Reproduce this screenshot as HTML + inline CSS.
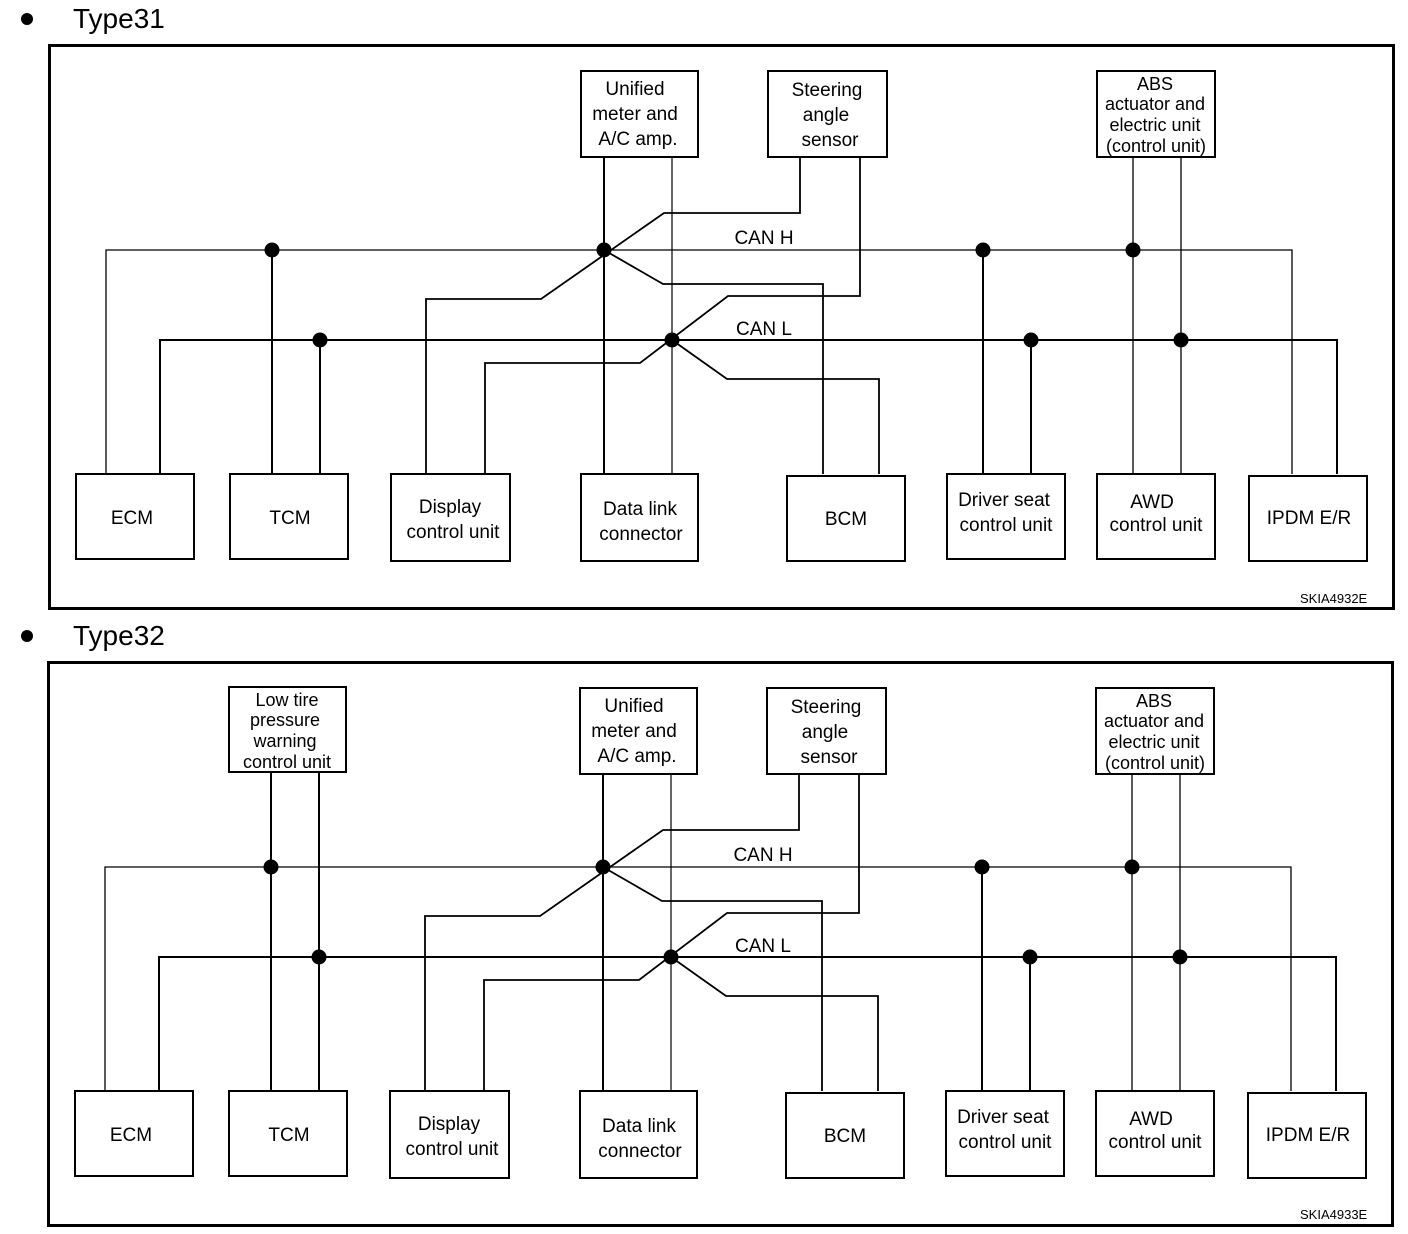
<!DOCTYPE html>
<html><head><meta charset="utf-8"><style>
html,body{margin:0;padding:0;background:#fff}
svg{display:block}
text{font-family:"Liberation Sans",sans-serif;fill:#000}
</style></head><body>
<svg width="1408" height="1234" viewBox="0 0 1408 1234" xmlns="http://www.w3.org/2000/svg">
<defs>
<g id="common">
  <rect x="49.5" y="45.5" width="1344" height="563" fill="none" stroke="#000" stroke-width="3"/>
  <g fill="none" stroke="#000" stroke-width="1.5">
    <polyline points="106,474 106,250 1292,250 1292,474" stroke-width="1.3"/>
    <polyline points="160,474 160,340 1337,340 1337,474" stroke-width="2"/>
    <line x1="272" y1="250" x2="272" y2="474" stroke-width="2"/>
    <line x1="320" y1="340" x2="320" y2="474" stroke-width="2"/>
    <line x1="604" y1="157" x2="604" y2="474" stroke-width="2"/>
    <line x1="672" y1="157" x2="672" y2="474" stroke-width="1.2"/>
    <polyline points="800,157 800,213 664,213 541,299 426,299 426,474" stroke-width="1.8"/>
    <polyline points="860,157 860,296 728,296 640,363 485,363 485,474" stroke-width="1.8"/>
    <polyline points="604,250 663,284 823,284 823,474" stroke-width="1.8"/>
    <polyline points="672,340 727,379 879,379 879,474" stroke-width="1.8"/>
    <line x1="983" y1="250" x2="983" y2="474" stroke-width="2"/>
    <line x1="1031" y1="340" x2="1031" y2="474" stroke-width="2"/>
    <line x1="1133" y1="157" x2="1133" y2="474" stroke-width="1.3"/>
    <line x1="1181" y1="157" x2="1181" y2="474" stroke-width="1.3"/>
  </g>
  <g fill="#000">
    <circle cx="272" cy="250" r="7.5"/><circle cx="604" cy="250" r="7.5"/>
    <circle cx="983" cy="250" r="7.5"/><circle cx="1133" cy="250" r="7.5"/>
    <circle cx="320" cy="340" r="7.5"/><circle cx="672" cy="340" r="7.5"/>
    <circle cx="1031" cy="340" r="7.5"/><circle cx="1181" cy="340" r="7.5"/>
  </g>
  <g fill="#fff" stroke="#000" stroke-width="2">
    <rect x="581" y="71" width="117" height="86"/>
    <rect x="768" y="71" width="119" height="86"/>
    <rect x="1097" y="71" width="118" height="86"/>
    <rect x="76" y="474" width="118" height="85"/>
    <rect x="230" y="474" width="118" height="85"/>
    <rect x="391" y="474" width="119" height="87"/>
    <rect x="581" y="474" width="117" height="87"/>
    <rect x="787" y="476" width="118" height="85"/>
    <rect x="947" y="474" width="118" height="85"/>
    <rect x="1097" y="474" width="118" height="85"/>
    <rect x="1249" y="476" width="118" height="85"/>
  </g>
  <g font-size="19" text-anchor="middle">
    <text x="635" y="95">Unified</text><text x="635" y="120">meter and</text><text x="638" y="145">A/C amp.</text>
    <text x="827" y="96">Steering</text><text x="826" y="121">angle</text><text x="830" y="146">sensor</text>
    <text x="1155" y="90" font-size="18">ABS</text><text x="1155" y="110" font-size="18">actuator and</text>
    <text x="1155" y="131" font-size="18">electric unit</text><text x="1156" y="152" font-size="18">(control unit)</text>
    <text x="764" y="244">CAN H</text><text x="764" y="335">CAN L</text>
    <text x="132" y="524">ECM</text><text x="290" y="524">TCM</text>
    <text x="450" y="513">Display</text><text x="453" y="538">control unit</text>
    <text x="640" y="515">Data link</text><text x="641" y="540">connector</text>
    <text x="846" y="525">BCM</text>
    <text x="1004" y="506">Driver seat</text><text x="1006" y="531">control unit</text>
    <text x="1152" y="508">AWD</text><text x="1156" y="531">control unit</text>
    <text x="1309" y="524">IPDM E/R</text>
  </g>
</g>
</defs>

<circle cx="27" cy="19" r="6"/>
<text x="73" y="28" font-size="28">Type31</text>
<use href="#common"/>
<text x="1300" y="603" font-size="13">SKIA4932E</text>

<circle cx="27" cy="636" r="6"/>
<text x="73" y="645" font-size="28">Type32</text>
<g transform="translate(-1,617)">
  <use href="#common"/>
  <g fill="none" stroke="#000" stroke-width="2">
    <line x1="272" y1="155" x2="272" y2="250"/>
    <line x1="320" y1="155" x2="320" y2="340"/>
  </g>
  <rect x="230" y="70" width="117" height="85" fill="#fff" stroke="#000" stroke-width="2"/>
  <g font-size="18" text-anchor="middle">
    <text x="288" y="89">Low tire</text><text x="286" y="109">pressure</text>
    <text x="286" y="130">warning</text><text x="288" y="151">control unit</text>
  </g>
</g>
<text x="1300" y="1219" font-size="13">SKIA4933E</text>
</svg>
</body></html>
